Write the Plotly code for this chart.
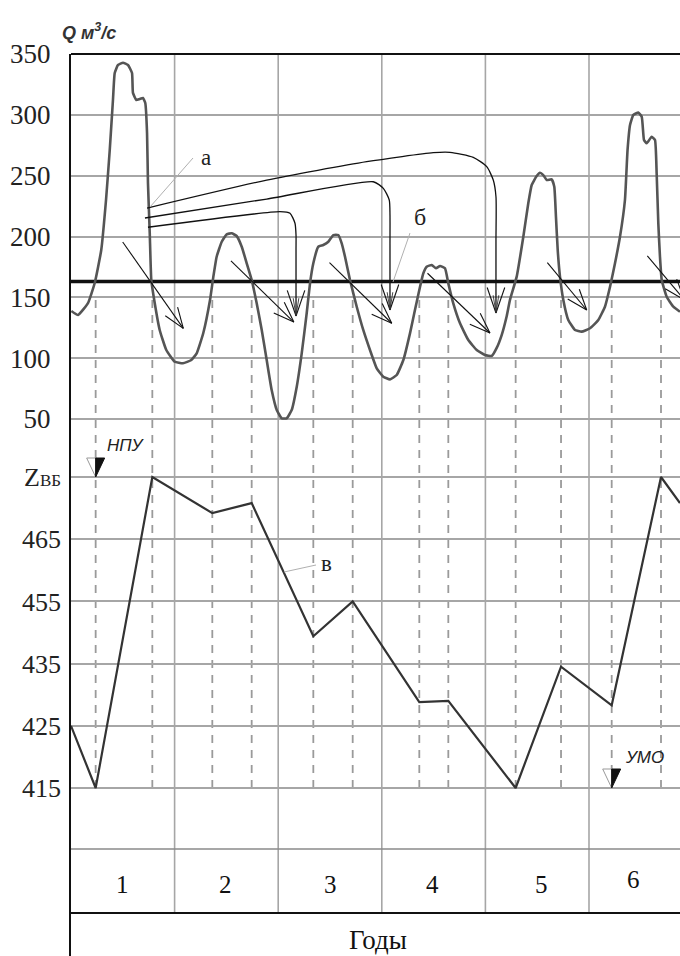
import numpy as np
import plotly.graph_objects as go

# ---------------- data ----------------
# discharge hydrograph Q (m3/s) vs time (years)
q_t = [0.003, 0.068, 0.164, 0.229, 0.292, 0.338, 0.374, 0.405, 0.422, 0.454, 0.502, 0.550, 0.589, 0.598,
       0.630, 0.663, 0.695, 0.717, 0.734, 0.743, 0.760, 0.775, 0.808, 0.856, 0.920, 1.001, 1.081, 1.161,
       1.213, 1.277, 1.342, 1.374, 1.406, 1.455, 1.503, 1.551, 1.599, 1.648, 1.696, 1.744, 1.792, 1.841,
       1.889, 1.937, 1.986, 2.034, 2.082, 2.130, 2.179, 2.227, 2.275, 2.307, 2.339, 2.387, 2.435, 2.484,
       2.532, 2.580, 2.613, 2.645, 2.693, 2.758, 2.821, 2.886, 2.951, 3.014, 3.079, 3.144, 3.208, 3.272,
       3.320, 3.369, 3.401, 3.433, 3.482, 3.523, 3.562, 3.610, 3.642, 3.690, 3.755, 3.835, 3.916, 3.996,
       4.061, 4.109, 4.157, 4.206, 4.237, 4.302, 4.366, 4.414, 4.447, 4.495, 4.527, 4.559, 4.592, 4.640,
       4.665, 4.681, 4.698, 4.720, 4.752, 4.800, 4.865, 4.929, 5.010, 5.090, 5.154, 5.203, 5.251, 5.299,
       5.347, 5.372, 5.396, 5.428, 5.476, 5.509, 5.531, 5.557, 5.605, 5.637, 5.653, 5.669, 5.685, 5.702,
       5.750, 5.814, 5.878]
q_val = [138.8, 135.5, 145.3, 161.8, 188.9, 230.0, 271.1, 312.2, 334.4, 341.0, 342.8, 341.0, 334.4, 318.0,
         312.2, 313.0, 313.8, 309.7, 285.1, 244.0, 202.9, 164.3, 145.3, 123.2, 106.7, 97.1, 95.8, 98.5,
         104.0, 120.7, 147.8, 167.0, 183.4, 195.7, 201.8, 202.6, 200.4, 191.6, 178.0, 164.3, 145.3, 123.2,
         98.5, 73.8, 57.4, 50.6, 50.6, 57.4, 76.6, 104.0, 136.9, 161.5, 178.0, 191.6, 193.0, 195.7,
         201.2, 201.2, 194.4, 183.4, 164.3, 142.3, 123.2, 106.7, 91.7, 84.8, 82.6, 86.2, 98.5, 120.4,
         139.6, 158.7, 169.8, 175.2, 176.6, 173.9, 175.8, 173.9, 161.5, 145.1, 128.7, 114.9, 106.7, 102.6,
         101.8, 108.4, 119.0, 134.7, 147.8, 167.0, 199.8, 227.3, 242.3, 249.7, 252.4, 250.5, 246.4, 247.0,
         240.9, 216.3, 188.9, 167.0, 147.8, 131.4, 123.2, 121.8, 124.6, 131.4, 142.3, 158.7, 178.0, 199.8,
         230.0, 271.0, 291.6, 299.9, 301.8, 298.5, 279.3, 276.6, 282.0, 279.3, 252.0, 210.9, 183.4, 164.3,
         150.5, 142.3, 138.2]
q_guaranteed = 163.0

# reservoir level Z (m)
z_t = [0.0, 0.238, 0.785, 1.364, 1.744, 2.339, 2.719, 3.362, 3.642, 4.292, 4.730, 5.219, 5.695, 5.878]
z_val = [425, 415, 475, 469.2, 470.8, 443.8, 455, 428.8, 429.0, 415, 434.5, 428.3, 475, 470.8]

q_ticks = [50, 100, 150, 200, 250, 300, 350]
z_ticks = [415, 425, 435, 455, 465, 475]
z_ticktext = ["415", "425", "435", "455", "465", "Z<span style=\"font-size:17px\">ВБ</span>"]
years = ["1", "2", "3", "4", "5", "6"]
year_pos = [0.50, 1.49, 2.50, 3.49, 4.54, 5.43]
year_bounds = [1, 2, 3, 4, 5, 6]

# transfer curves (a): (t, Q) path points and arrow tip Q
curves = [
    ([0.734, 1.889, 2.854, 3.497, 3.658, 3.883, 4.013, 4.076, 4.102, 4.102],
     [223.4, 246.4, 261.5, 268.9, 269.2, 265.1, 257.4, 246.4, 232.7, 197.1], 137.1),
    ([0.714, 1.889, 2.918, 3.015, 3.072, 3.079, 3.079],
     [215.2, 230.8, 245.0, 239.6, 230.0, 217.7, 193.0], 139.6),
    ([0.743, 2.017, 2.114, 2.162, 2.172, 2.172],
     [207.6, 220.4, 219.1, 210.9, 201.2, 188.9], 134.7),
]
# small diagonal arrows: (tail), (tip) in (t, Q)
diag = [((0.499, 195.5), (1.084, 124.5)), ((1.544, 179.9), (2.151, 129.7)),
        ((2.495, 178.6), (3.096, 128.7)), ((3.441, 169.8), (4.044, 120.7)),
        ((4.598, 178.5), (4.978, 139.6)), ((5.563, 184.0), (5.92, 148.0))]

# ---------------- geometry (layout only) ----------------
W, H = 680, 956
L, T = 71, 54
PW, PH = W - L, H - T
X_SCALE = 103.6          # px per year
Q_SCALE = 1.2167         # px per m3/s (350 at top)
Z_SCALE = 62.2           # px per Z tick step
Z0_PX = 788              # px of lowest Z tick

def q_px(q):
    return T + (350 - q) * Q_SCALE

def zi_px(i):
    return Z0_PX - i * Z_SCALE

def paper_y(px):
    return (H - px) / PH

def t_px(t):
    return L + t * X_SCALE

def t_of_px(px):
    return (px - L) / X_SCALE

def q_of_px(py):
    return 350 - (py - T) / Q_SCALE

def zi_of_px(py):
    return (Z0_PX - py) / Z_SCALE

def barbs(tail, tip, length, ang=20):
    """two barb segments of an open arrow head, returned in (t, Q) units"""
    tx, ty = t_px(tail[0]), q_px(tail[1])
    hx, hy = t_px(tip[0]), q_px(tip[1])
    d = np.array([tx - hx, ty - hy])
    d = d / np.linalg.norm(d)
    xs, ys = [], []
    for a in (ang, -ang):
        r = np.radians(a)
        v = np.array([d[0] * np.cos(r) - d[1] * np.sin(r), d[0] * np.sin(r) + d[1] * np.cos(r)])
        bx, by = hx + length * v[0], hy + length * v[1]
        xs += [t_of_px(bx), tip[0], None]
        ys += [q_of_px(by), tip[1], None]
    return xs, ys

z_idx = np.interp(z_val, z_ticks, np.arange(len(z_ticks)))

x_range = [0, PW / X_SCALE]
q_range = [350 - PH / Q_SCALE, 350]
z_range = [zi_of_px(H), zi_of_px(T)]

GRID = "#a6a6a6"
SERIF = "Liberation Serif, Times New Roman, serif"
SANS = "Liberation Sans, Arial, sans-serif"

fig = go.Figure()

# hydrograph
fig.add_trace(go.Scatter(x=q_t, y=q_val, mode="lines", yaxis="y",
                         line=dict(color="#555555", width=2.6, shape="spline", smoothing=0.4),
                         hoverinfo="skip"))
# level line
fig.add_trace(go.Scatter(x=z_t, y=z_idx, mode="lines", yaxis="y2",
                         line=dict(color="#333333", width=2.2), hoverinfo="skip"))

# curved transfer lines with arrow at end
for cx, cy, tip in curves:
    fig.add_trace(go.Scatter(x=cx + [cx[-1]], y=cy + [tip], mode="lines", yaxis="y",
                             line=dict(color="#111111", width=1.3, shape="spline", smoothing=0.6),
                             hoverinfo="skip"))
    bx, by = barbs((cx[-1], cy[-1]), (cx[-1], tip), 27, 19)
    fig.add_trace(go.Scatter(x=bx, y=by, mode="lines", yaxis="y",
                             line=dict(color="#111111", width=1.1), hoverinfo="skip"))
    bx, by = barbs((cx[-1], cy[-1]), (cx[-1], tip), 18, 9)
    fig.add_trace(go.Scatter(x=bx, y=by, mode="lines", yaxis="y",
                             line=dict(color="#333333", width=0.9), hoverinfo="skip"))

# diagonal small arrows
for tail, tip in diag:
    bx, by = barbs(tail, tip, 22, 20)
    fig.add_trace(go.Scatter(x=[tail[0], tip[0], None] + bx, y=[tail[1], tip[1], None] + by,
                             mode="lines", yaxis="y", line=dict(color="#111111", width=1.1),
                             hoverinfo="skip"))

annotations = [
    dict(x=t_of_px(206), y=q_of_px(157), xref="x", yref="y", text="a", showarrow=False,
         font=dict(family=SERIF, size=23, color="#222"), bgcolor="white", borderpad=2),
    dict(x=t_of_px(420), y=q_of_px(217), xref="x", yref="y", text="б", showarrow=False,
         font=dict(family=SERIF, size=24, color="#222"), bgcolor="white", borderpad=3),
    dict(x=t_of_px(326), y=zi_of_px(563), xref="x", yref="y2", text="в", showarrow=False,
         font=dict(family=SERIF, size=23, color="#222")),
    dict(x=t_of_px(126), y=zi_of_px(445), xref="x", yref="y2", text="<i>НПУ</i>", showarrow=False,
         font=dict(family=SANS, size=17, color="#222")),
    dict(x=t_of_px(644), y=zi_of_px(757), xref="x", yref="y2", text="<i>УМО</i>", showarrow=False,
         font=dict(family=SANS, size=17, color="#222")),
    dict(x=(89 - L) / PW, y=paper_y(32), xref="paper", yref="paper",
         text="<b><i>Q м<sup>3</sup>/с</i></b>", showarrow=False,
         font=dict(family=SANS, size=18, color="#333")),
    dict(x=t_of_px(378), y=paper_y(940), xref="x", yref="paper", text="Годы", showarrow=False,
         font=dict(family=SERIF, size=27, color="#111")),
]
for lab, pos in zip(years, year_pos):
    ypos = 879 if lab == "6" else 884
    annotations.append(dict(x=pos, y=paper_y(ypos), xref="x", yref="paper", text=lab,
                            showarrow=False, font=dict(family=SERIF, size=25, color="#111")))
for a in annotations:
    a["xanchor"] = "center"
    a["yanchor"] = "middle"

shapes = []
for b in year_bounds:
    shapes.append(dict(type="line", xref="x", yref="paper", x0=b, x1=b,
                       y0=paper_y(913), y1=1, line=dict(color=GRID, width=1.6), layer="below"))
for tv in z_t[1:-1]:
    shapes.append(dict(type="line", xref="x", yref="paper", x0=tv, x1=tv,
                       y0=paper_y(zi_px(0)), y1=paper_y(q_px(150)),
                       line=dict(color="#9a9a9a", width=1.8, dash="8px,7px"), layer="below"))
shapes.append(dict(type="line", xref="paper", yref="paper", x0=0, x1=1, y0=paper_y(849), y1=paper_y(849),
                   line=dict(color="#8a8a8a", width=1.6), layer="below"))
shapes.append(dict(type="line", xref="paper", yref="paper", x0=0, x1=1, y0=paper_y(913), y1=paper_y(913),
                   line=dict(color="#111", width=2.2)))
shapes.append(dict(type="line", xref="paper", yref="paper", x0=0, x1=1, y0=1, y1=1,
                   line=dict(color="#111", width=2.2)))
shapes.append(dict(type="line", xref="paper", yref="y", x0=0, x1=1, y0=q_guaranteed, y1=q_guaranteed,
                   line=dict(color="#111", width=3.6), layer="below"))
# leader lines
shapes.append(dict(type="line", xref="x", yref="y", x0=t_of_px(150), y0=q_of_px(207),
                   x1=t_of_px(193), y1=q_of_px(158), line=dict(color="#b0b0b0", width=1)))
shapes.append(dict(type="line", xref="x", yref="y", x0=t_of_px(393), y0=q_of_px(282),
                   x1=t_of_px(410), y1=q_of_px(233), line=dict(color="#b0b0b0", width=1)))
shapes.append(dict(type="line", xref="x", yref="y2", x0=t_of_px(284), y0=zi_of_px(572),
                   x1=t_of_px(316), y1=zi_of_px(565), line=dict(color="#b0b0b0", width=1)))

def tri(apex_t, apex_i, half_w_px=9, h_px=19):
    dt = half_w_px / X_SCALE
    di = h_px / Z_SCALE
    left = f"M {apex_t - dt},{apex_i + di} L {apex_t},{apex_i + di} L {apex_t},{apex_i} Z"
    right = f"M {apex_t},{apex_i + di} L {apex_t + dt},{apex_i + di} L {apex_t},{apex_i} Z"
    return [dict(type="path", xref="x", yref="y2", path=left, fillcolor="white",
                 line=dict(color="#999", width=1)),
            dict(type="path", xref="x", yref="y2", path=right, fillcolor="#111",
                 line=dict(color="#111", width=1))]

shapes += tri(z_t[1], z_idx[2])
shapes += tri(z_t[11], z_idx[1])

fig.update_layout(
    width=W, height=H, margin=dict(l=L, r=0, t=T, b=0, autoexpand=False),
    paper_bgcolor="white", plot_bgcolor="white", showlegend=False,
    xaxis=dict(range=x_range, showgrid=False, zeroline=False, showticklabels=False,
               showline=False, fixedrange=True, automargin=False),
    yaxis=dict(range=q_range, tickvals=q_ticks, ticktext=[str(v) for v in q_ticks],
               showgrid=True, gridcolor=GRID, gridwidth=1.6, zeroline=False,
               showline=True, linecolor="#111", linewidth=2.2, ticks="",
               tickfont=dict(family=SERIF, size=27, color="#222"), ticklabelstandoff=13,
               fixedrange=True, automargin=False),
    yaxis2=dict(range=z_range, overlaying="y", side="left", anchor="x",
                tickvals=list(range(len(z_ticks))), ticktext=z_ticktext,
                showgrid=True, gridcolor=GRID, gridwidth=1.6, zeroline=False, showline=False,
                ticks="", tickfont=dict(family=SERIF, size=26, color="#222"),
                ticklabelstandoff=9, fixedrange=True, automargin=False),
    shapes=shapes, annotations=annotations,
)

fig.write_html("out.html", config={"displayModeBar": False},
               post_script="document.body.style.margin='0';document.body.style.padding='0';")
